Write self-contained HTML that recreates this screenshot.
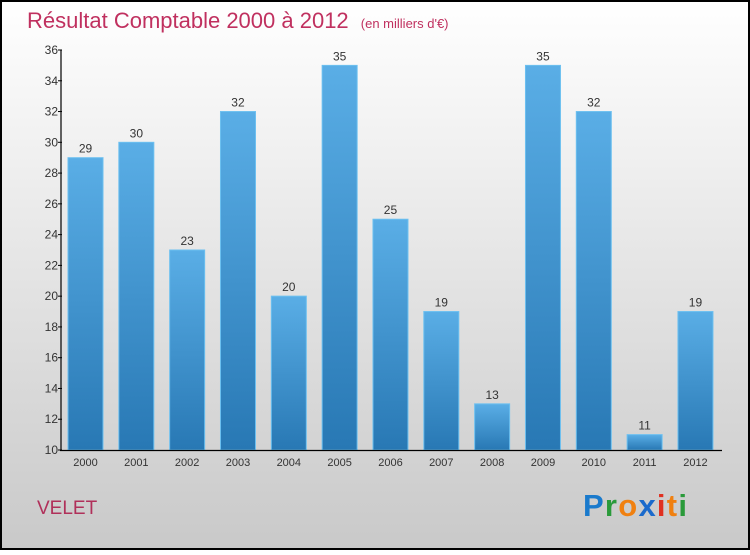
<!DOCTYPE html>
<html><head><meta charset="utf-8"><style>
html,body{margin:0;padding:0;}
body{width:750px;height:550px;overflow:hidden;font-family:"Liberation Sans",sans-serif;}
</style></head><body>
<svg width="750" height="550" xmlns="http://www.w3.org/2000/svg">
<defs>
<linearGradient id="bg" x1="0" y1="0" x2="0" y2="1"><stop offset="0" stop-color="#ffffff"/><stop offset="1" stop-color="#c9c9c9"/></linearGradient>
<linearGradient id="bar" x1="0" y1="0" x2="0" y2="1"><stop offset="0" stop-color="#5aaee6"/><stop offset="1" stop-color="#2878b4"/></linearGradient>
</defs>
<rect x="1" y="1" width="748" height="548" fill="url(#bg)" stroke="#000" stroke-width="2"/>
<text x="27" y="28" font-size="22" fill="#c0305f">Résultat Comptable 2000 à 2012 <tspan font-size="13" dx="6">(en milliers d'€)</tspan></text>
<g id="bars"></g>
<g id="axes"></g>
<text x="37" y="514" font-size="19" fill="#b0305a">VELET</text>
<text x="583" y="516" font-size="31" font-weight="bold" textLength="104" font-family="Liberation Sans, sans-serif"><tspan fill="#1a7acc">P</tspan><tspan fill="#2a9a3a">r</tspan><tspan fill="#f08010">o</tspan><tspan fill="#1a6acc">x</tspan><tspan fill="#e03020">i</tspan><tspan fill="#f08010">t</tspan><tspan fill="#2a9a3a">i</tspan></text>
</svg>
<script>
const years=["2000","2001","2002","2003","2004","2005","2006","2007","2008","2009","2010","2011","2012"];
const values=[29,30,23,32,20,35,25,19,13,35,32,11,19];
const yTicks=[10,12,14,16,18,20,22,24,26,28,30,32,34,36];
const NS="http://www.w3.org/2000/svg";
const y0=450,y1=50,vmin=10,vmax=36;
function yS(v){return y0-(v-vmin)/(vmax-vmin)*(y0-y1);}
const pitch=50.83,bw=35,x0=68;
function xS(i){return x0+i*pitch;}
function mk(t,a,p){const e=document.createElementNS(NS,t);for(const k in a)e.setAttribute(k,a[k]);p.appendChild(e);return e;}
const gb=document.getElementById('bars'),ga=document.getElementById('axes');
values.forEach((v,i)=>{
 const r=mk('rect',{x:xS(i),y:yS(v),width:bw,height:y0-yS(v),fill:'url(#bar)',stroke:'#6cc0f0','stroke-width':1},gb);
 
 
 const t=mk('text',{x:xS(i)+bw/2,y:yS(v)-5,'font-size':12,'text-anchor':'middle',fill:'#333'},gb);
 t.textContent=v;
 
 
 const xl=mk('text',{x:xS(i)+bw/2,y:466,'font-size':11,'text-anchor':'middle',fill:'#333'},ga);
 xl.textContent=years[i];
 
 
});
const ya=mk('line',{x1:61,y1:50,x2:61,y2:451,stroke:'#000','stroke-width':1.2},ga);


const xa=mk('line',{x1:60,y1:450.5,x2:722,y2:450.5,stroke:'#000','stroke-width':1.2},ga);


yTicks.forEach(v=>{
 mk('line',{x1:58,y1:yS(v),x2:62,y2:yS(v),stroke:'#000'},ga);
 const t=mk('text',{x:58,y:yS(v)+4,'font-size':12,'text-anchor':'end',fill:'#333'},ga);
 t.textContent=v;
 
 
});
</script>
</body></html>
